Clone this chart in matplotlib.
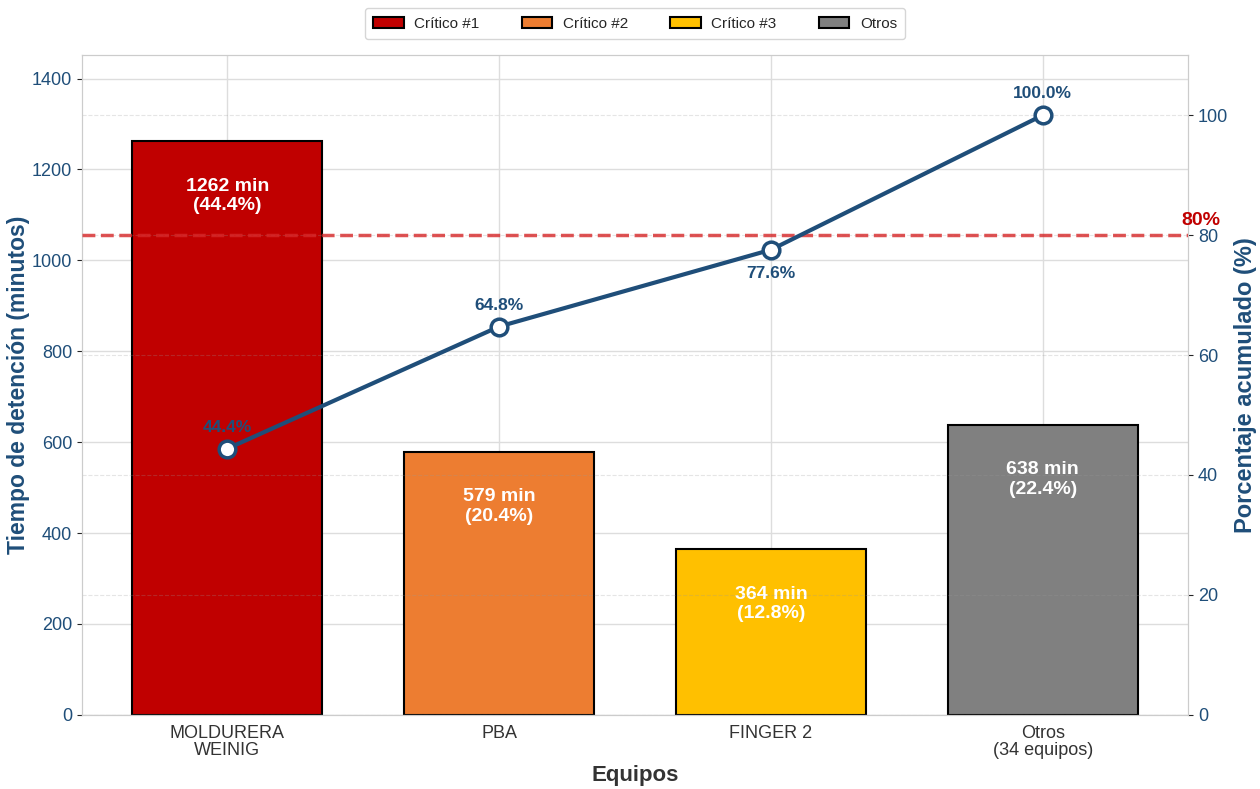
import numpy as np
import matplotlib.pyplot as plt
import seaborn as sns

sns.set_style('whitegrid')
plt.rcParams['font.family'] = ['Liberation Sans', 'DejaVu Sans']

equipos = ['MOLDURERA\nWEINIG', 'PBA', 'FINGER 2', 'Otros\n(34 equipos)']
minutos = [1262, 579, 364, 638]
categorias = ['Crítico #1', 'Crítico #2', 'Crítico #3', 'Otros']
colores = ['#C00000', '#ED7D31', '#FFC000', '#808080']

total = sum(minutos)
pct = [m / total * 100 for m in minutos]
acum = np.cumsum(pct)

azul = '#1F4E79'

fig, ax = plt.subplots(figsize=(12.6, 7.89), dpi=100)
fig.subplots_adjust(left=0.065, right=0.943, top=0.930, bottom=0.094)

x = np.arange(len(equipos))
bars = ax.bar(x, minutos, width=0.7, color=colores, edgecolor='black', linewidth=1.5,
              label=categorias, zorder=2)

for b, m, p in zip(bars, minutos, pct):
    ax.text(b.get_x() + b.get_width() / 2, m - 80, f'{m} min\n({p:.1f}%)',
            ha='center', va='top', color='white', fontsize=14, fontweight='bold',
            linespacing=1.2, zorder=5)

ax.set_ylim(0, max(minutos) * 1.15)
ax.set_xticks(x)
ax.set_xticklabels(equipos, fontsize=13, color='#333333', linespacing=1.05)
ax.tick_params(axis='y', labelsize=13, labelcolor=azul)
ax.set_ylabel('Tiempo de detención (minutos)', fontsize=16.5, fontweight='bold', color=azul)
ax.yaxis.set_label_coords(-0.047, 0.5)
ax.set_xlabel('Equipos', fontsize=16, fontweight='bold', color='#333333')
ax.grid(True, color='#DDDDDD', linewidth=1)

ax2 = ax.twinx()
ax2.set_ylim(0, 110)
ax2.grid(True, axis='y', linestyle='--', color='#999999', alpha=0.25, linewidth=0.8)
ax2.grid(False, axis='x')
ax2.plot(x, acum, color=azul, linewidth=3, marker='o', markersize=12,
         markerfacecolor='white', markeredgecolor=azul, markeredgewidth=2.5, zorder=4)
ax2.axhline(80, color='#D62728', linestyle='--', linewidth=2.5, alpha=0.8, zorder=3)
ax2.text(3.58, 81, '80%', color='#C00000', fontsize=14, fontweight='bold',
         ha='center', va='bottom')

for i, v in enumerate(acum):
    if abs(v - 80) < 5:
        ax2.annotate(f'{v:.1f}%', (x[i], v), xytext=(0, -12), textcoords='offset points',
                     ha='center', va='top', color=azul, fontsize=12.5, fontweight='bold')
    else:
        ax2.annotate(f'{v:.1f}%', (x[i], v), xytext=(0, 10), textcoords='offset points',
                     ha='center', va='bottom', color=azul, fontsize=12.5, fontweight='bold')

ax2.tick_params(axis='y', labelsize=13, labelcolor=azul)
ax2.set_ylabel('Porcentaje acumulado (%)', fontsize=17, fontweight='bold', color=azul)

for a in (ax, ax2):
    for s in a.spines.values():
        s.set_color('#CCCCCC')

ax.legend(bars, categorias, loc='upper center', bbox_to_anchor=(0.5, 1.083), ncol=4,
          fontsize=11, frameon=True, edgecolor='#CCCCCC', handlelength=2.0,
          handletextpad=0.7, columnspacing=2.75, borderpad=0.55)

fig.savefig('out.png', dpi=100)
